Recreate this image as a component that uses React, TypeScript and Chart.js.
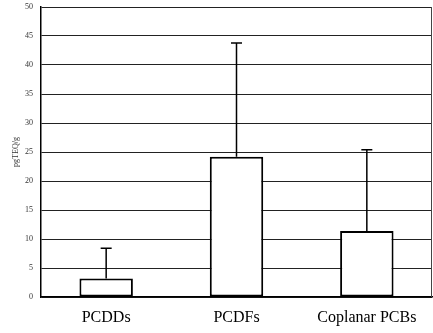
import React, { useEffect, useRef } from "react";
import { Chart, registerables } from "chart.js";

Chart.register(...registerables);

const categories = ["PCDDs", "PCDFs", "Coplanar PCBs"];
const means = [3.2, 24.2, 11.4];
const errors = [5.2, 19.6, 14.0];
const yTitle = "pgTEQ/g";
const yMin = 0;
const yMax = 50;
const yStep = 5;

const errorBarPlugin = {
  id: "errorBars",
  afterDatasetsDraw(chart: any) {
    const ctx = chart.ctx;
    const meta = chart.getDatasetMeta(0);
    const yScale = chart.scales.y;
    ctx.save();
    ctx.strokeStyle = "#000";
    ctx.lineWidth = 1.5;
    meta.data.forEach((bar: any, i: number) => {
      const top = yScale.getPixelForValue(means[i] + errors[i]);
      ctx.beginPath();
      ctx.moveTo(bar.x, bar.y);
      ctx.lineTo(bar.x, top);
      ctx.moveTo(bar.x - 5.5, top);
      ctx.lineTo(bar.x + 5.5, top);
      ctx.stroke();
    });
    ctx.restore();
  },
};

const frameRightPlugin = {
  id: "frameRight",
  beforeDatasetsDraw(chart: any) {
    const { ctx, chartArea } = chart;
    ctx.save();
    ctx.strokeStyle = "#444";
    ctx.lineWidth = 1;
    ctx.beginPath();
    ctx.moveTo(chartArea.right - 0.5, chartArea.top);
    ctx.lineTo(chartArea.right - 0.5, chartArea.bottom);
    ctx.stroke();
    ctx.restore();
  },
};

export default function App() {
  const ref = useRef<HTMLCanvasElement>(null);
  useEffect(() => {
    document.body.style.margin = "0";
    const chart = new Chart(ref.current as HTMLCanvasElement, {
      type: "bar",
      data: {
        labels: categories,
        datasets: [
          {
            data: means,
            backgroundColor: "#fff",
            borderColor: "#000",
            borderWidth: 2,
            borderSkipped: false,
            categoryPercentage: 1,
            barPercentage: 0.41,
          },
        ],
      },
      options: {
        responsive: false,
        animation: false,
        layout: { padding: { top: 7, right: 1, left: 0, bottom: 0 } },
        plugins: { legend: { display: false }, tooltip: { enabled: false } },
        scales: {
          x: {
            grid: { display: false, drawTicks: false },
            border: { color: "#000", width: 1.5 },
            ticks: {
              color: "#000",
              padding: 11,
              font: { family: "'Liberation Serif', serif", size: 16 },
            },
            afterFit(scale: any) {
              scale.height = 36;
            },
          },
          y: {
            min: yMin,
            max: yMax,
            ticks: {
              stepSize: yStep,
              color: "#333",
              padding: 0,
              font: { family: "'Liberation Serif', serif", size: 8 },
            },
            grid: {
              color: "#222",
              lineWidth: 1,
              drawTicks: true,
              tickLength: 8,
              tickColor: "rgba(0,0,0,0)",
            },
            border: { color: "#000", width: 1.5 },
            title: {
              display: true,
              text: yTitle,
              color: "#333",
              padding: { top: 11, bottom: 0 },
              font: { family: "'Liberation Serif', serif", size: 8 },
            },
            afterFit(scale: any) {
              scale.width = 41;
            },
          },
        },
      },
      plugins: [errorBarPlugin, frameRightPlugin],
    });
    return () => chart.destroy();
  }, []);
  return (
    <div style={{ width: 433, height: 333 }}>
      <canvas ref={ref} width={433} height={333} />
    </div>
  );
}
